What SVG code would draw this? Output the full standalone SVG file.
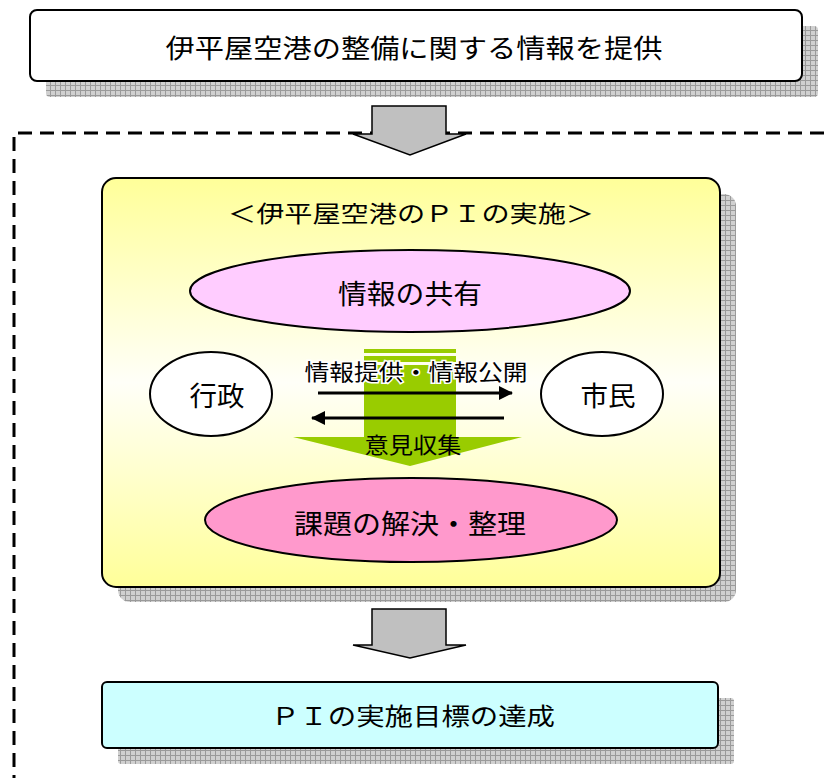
<svg xmlns="http://www.w3.org/2000/svg" width="824" height="778" viewBox="0 0 824 778">
<defs>
<pattern id="hatch" width="5" height="5" patternUnits="userSpaceOnUse">
<rect width="5" height="5" fill="#D0D0D0"/>
<path d="M0 0.5H5M0.5 0V5" stroke="#9A9A9A" stroke-width="1"/>
</pattern>
<linearGradient id="yel" x1="0" y1="0" x2="0" y2="1">
<stop offset="0" stop-color="#FFFF99"/>
<stop offset="0.5" stop-color="#FFFFF8"/>
<stop offset="1" stop-color="#FFFF99"/>
</linearGradient>
<marker id="ah" markerWidth="14" markerHeight="14" refX="13" refY="7" orient="auto" markerUnits="userSpaceOnUse">
<path d="M0 0L14 7L0 14Z" fill="#000"/>
</marker>
</defs>
<style>
text{font-family:"Noto Sans CJK JP","Noto Sans CJK SC",sans-serif;fill:#000;text-anchor:middle;dominant-baseline:central}
.box{stroke:#000;stroke-width:2}
.shadow{fill:url(#hatch)}
.garrow{fill:#C0C0C0;stroke:#000;stroke-width:1.5}
.ell{stroke:#000;stroke-width:2}
</style>
<g id="dashed-frame">
<path d="M824 133H14V778" fill="none" stroke="#000" stroke-width="3" stroke-dasharray="14 8"/>
</g>
<g id="node-top">
<rect x="46" y="26" width="772" height="71" rx="4" class="shadow"/>
<rect x="30" y="10" width="772" height="71" rx="7" fill="#fff" class="box"/>
<text x="414" y="46" font-size="26" textLength="497" lengthAdjust="spacingAndGlyphs">伊平屋空港の整備に関する情報を提供</text>
</g>
<g id="node-pi">
<rect x="118" y="194" width="618" height="408" rx="12" class="shadow"/>
<rect x="102" y="178" width="618" height="409" rx="14" fill="url(#yel)" class="box"/>
<text x="411" y="212" font-size="23" textLength="366" lengthAdjust="spacingAndGlyphs">＜伊平屋空港のＰＩの実施＞</text>
</g>
<g id="node-share">
<ellipse cx="410" cy="291" rx="220" ry="41" fill="#FFCCFF" class="ell"/>
<text x="410" y="292" font-size="27" textLength="144" lengthAdjust="spacingAndGlyphs">情報の共有</text>
</g>
<g id="green-arrow">
<rect x="364" y="349" width="92" height="4" fill="#99CC00"/>
<rect x="364" y="356" width="92" height="6" fill="#99CC00"/>
<path d="M364 365H456V437H522L410 466L293 437H364Z" fill="#99CC00"/>
</g>
<g id="node-gyosei">
<ellipse cx="211" cy="394" rx="61" ry="42" fill="#fff" class="ell"/>
<text x="217" y="394" font-size="27" textLength="55" lengthAdjust="spacingAndGlyphs">行政</text>
</g>
<g id="node-shimin">
<ellipse cx="602" cy="394" rx="61" ry="42" fill="#fff" class="ell"/>
<text x="608" y="394" font-size="27" textLength="55" lengthAdjust="spacingAndGlyphs">市民</text>
</g>
<g id="connectors">
<line x1="318" y1="393" x2="512" y2="393" stroke="#000" stroke-width="3" marker-end="url(#ah)"/>
<line x1="504" y1="418" x2="312" y2="418" stroke="#000" stroke-width="3" marker-end="url(#ah)"/>
<text x="416" y="370" font-size="22" textLength="223" lengthAdjust="spacingAndGlyphs" stroke="#fff" stroke-width="3" paint-order="stroke">情報提供・情報公開</text>
<text x="413" y="443" font-size="22" textLength="97" lengthAdjust="spacingAndGlyphs">意見収集</text>
<path d="M372 106H446V134H466L410 155L353 134H372Z" class="garrow"/>
<path d="M372 609H446V645H466L410 658L353 645H372Z" class="garrow"/>
</g>
<g id="node-solve">
<ellipse cx="411" cy="520" rx="206" ry="42" fill="#FF99CC" class="ell"/>
<text x="410" y="522" font-size="27" textLength="232" lengthAdjust="spacingAndGlyphs">課題の解決・整理</text>
</g>
<g id="node-goal">
<rect x="118" y="698" width="616" height="66" rx="3" class="shadow"/>
<rect x="102" y="682" width="616" height="66" rx="5" fill="#CCFFFF" class="box"/>
<text x="413" y="714" font-size="24" textLength="284" lengthAdjust="spacingAndGlyphs">ＰＩの実施目標の達成</text>
</g>
</svg>
